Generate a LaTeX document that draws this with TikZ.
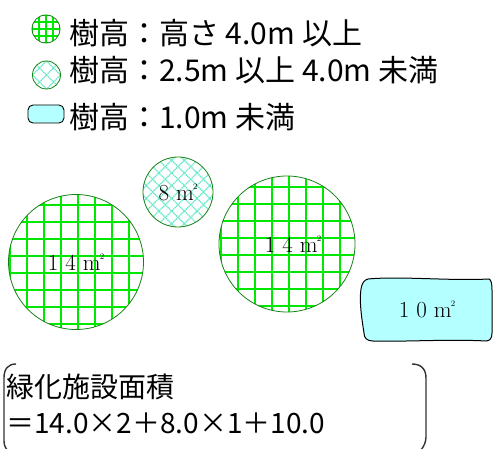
\documentclass[tikz,border=0pt]{standalone}
\usepackage{fontspec}
\newfontfamily\jpfont{Noto Sans CJK JP}
\usetikzlibrary{calc}

\definecolor{gridgreen}{RGB}{0,232,0}
\definecolor{treeborder}{RGB}{20,130,20}
\definecolor{aqualine}{RGB}{100,232,200}
\definecolor{shrubfill}{RGB}{180,255,255}

\newcommand\heibei{m\kern-0.8pt\raisebox{0.48em}{\fontsize{8.5}{8.5}\selectfont 2}}

\begin{document}
\begin{tikzpicture}[x=1pt,y=-1pt]
\tikzstyle{gridln}=[gridgreen, line width=1.8pt]
\tikzstyle{smallgridln}=[gridgreen, line width=1.5pt]
\tikzstyle{diagln}=[aqualine, line width=1.3pt, dash pattern=on 1.3pt off 0.7pt]
\tikzstyle{tall}=[circle, draw=treeborder, line width=0.8pt, inner sep=0pt, font=\fontsize{23}{23}\selectfont,
  path picture={\foreach \k in {-5,...,5} {
    \draw[gridln] ($(path picture bounding box.center)+(\k*17+2,-80)$) -- ++(0,160);
    \draw[gridln] ($(path picture bounding box.center)+(-80,\k*17-6)$) -- ++(160,0);}}]
\tikzstyle{tall icon}=[circle, draw=treeborder, line width=0.8pt, inner sep=0pt, minimum size=28pt,
  path picture={\foreach \k in {-2,...,2} {
    \draw[smallgridln] ($(path picture bounding box.center)+(\k*7,-20)$) -- ++(0,40);
    \draw[smallgridln] ($(path picture bounding box.center)+(-20,\k*7)$) -- ++(40,0);}}]
\tikzstyle{middle}=[circle, draw=treeborder, line width=0.8pt, inner sep=0pt, font=\fontsize{23}{23}\selectfont,
  path picture={\foreach \k in {-5,...,5} {
    \draw[diagln] ($(path picture bounding box.center)+(\k*12.7-50,-50)$) -- ++(100,100);
    \draw[diagln] ($(path picture bounding box.center)+(\k*12.7-50,50)$) -- ++(100,-100);}}]
\tikzstyle{middle icon}=[circle, draw=treeborder, line width=0.8pt, inner sep=0pt, minimum size=28pt,
  path picture={\foreach \k in {-2,...,2} {
    \draw[diagln] ($(path picture bounding box.center)+(\k*14-20,-20)$) -- ++(40,40);
    \draw[diagln] ($(path picture bounding box.center)+(\k*14-20,20)$) -- ++(40,-40);}}]
\tikzstyle{shrub icon}=[rectangle, rounded corners=5pt, draw=black, line width=0.9pt, fill=shrubfill,
  minimum width=36pt, minimum height=18pt, inner sep=0pt]
\tikzstyle{legendtxt}=[anchor=west, inner sep=0pt, font=\jpfont\fontsize{30}{30}\selectfont]
\tikzstyle{calctxt}=[anchor=west, inner sep=0pt, font=\jpfont\fontsize{28}{28}\selectfont]
\tikzstyle{bracketln}=[draw=black!80, line width=1.4pt]

\useasboundingbox (0,0) rectangle (493,449);

% legend
\node[tall icon] (i1) at (46,29) {};
\node[middle icon] (i2) at (46.5,75) {};
\node[shrub icon] (i3) at (46,114) {};
\node[legendtxt] (lg1) at (69,33) {樹高：高さ 4.0m 以上};
\node[legendtxt] (lg2) at (69,70) {樹高：2.5m 以上 4.0m 未満};
\node[legendtxt] (lg3) at (69,117) {樹高：1.0m 未満};

% trees
\node[tall, minimum size=135pt] (t1) at (76,262) {1 4 \heibei};
\node[tall, minimum size=136pt] (t2) at (287,244) {\hspace*{12pt}1 4 \heibei};
\node[middle, minimum size=70pt] (t3) at (178,192) {8 \heibei};

% shrub
\draw[fill=shrubfill, draw=black, line width=1pt]
  (368,279) .. controls (400,276) and (450,281) .. (489,279)
  .. controls (491,280) and (492,283) .. (492,290) -- (492,333)
  .. controls (492,338) and (490,341) .. (486,341)
  .. controls (450,339) and (400,342) .. (373,341)
  .. controls (367,341) and (364,338) .. (364,333)
  .. controls (362,320) and (359,302) .. (361,289)
  .. controls (362,283) and (364,280) .. (368,279) -- cycle;
\node[font=\fontsize{23}{23}\selectfont] (s1) at (427,309) {1 0 \heibei};

% area
\draw[bracketln] (16,364) .. controls (8,364) and (4,369) .. (4,378) -- (4,441) .. controls (4,446) and (6,449) .. (9,452);
\draw[bracketln] (412,364) .. controls (421,364) and (426,369) .. (426,378) -- (426,437) .. controls (426,442) and (424,446) .. (421,450);
\node[calctxt] (c1) at (6,387) {緑化施設面積};
\node[calctxt] (c2) at (6,423) {＝14.0×2＋8.0×1＋10.0};

\end{tikzpicture}
\end{document}
